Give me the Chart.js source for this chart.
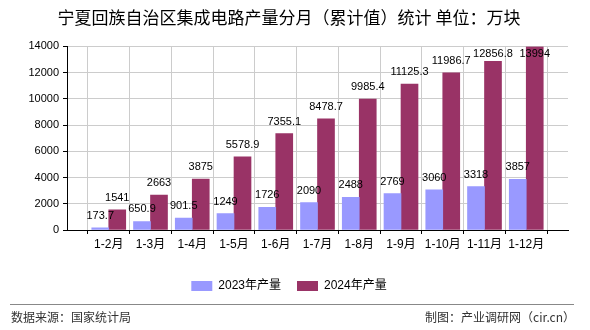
<!DOCTYPE html>
<html>
<head>
<meta charset="utf-8">
<script src="https://cdn.jsdelivr.net/npm/chart.js@4"></script>
<style>
    body { margin: 0; background: #ffffff; }
    #chart { display: block; }
</style>
</head>
<body>
<canvas id="chart" width="590" height="330"></canvas>
<script>
"use strict"

const months = ["1-2月", "1-3月", "1-4月", "1-5月", "1-6月", "1-7月", "1-8月", "1-9月", "1-10月", "1-11月", "1-12月"];
const output2023 = [173.7, 650.9, 901.5, 1249, 1726, 2090, 2488, 2769, 3060, 3318, 3857];
const output2024 = [1541, 2663, 3875, 5578.9, 7355.1, 8478.7, 9985.4, 11125.3, 11986.7, 12856.8, 13994];
const yTicks = [0, 2000, 4000, 6000, 8000, 10000, 12000, 14000];

const sansFont = "'Liberation Sans', 'Noto Sans CJK SC', sans-serif";

// the axis has an empty slot at each end, the bars sit on the inner ticks
const labels = [""].concat(months, [""]);
const pad = (arr) => [null].concat(arr, [null]);

const valueLabels = {
    id: "valueLabels",
    afterDatasetsDraw(chart) {
        const ctx = chart.ctx;
        const area = chart.chartArea;
        ctx.save();
        ctx.font = "11px " + sansFont;
        ctx.fillStyle = "#000000";
        ctx.textAlign = "center";
        ctx.textBaseline = "middle";
        chart.data.datasets.forEach((ds, i) => {
            chart.getDatasetMeta(i).data.forEach((bar, j) => {
                const v = ds.data[j];
                if (v === null) return;
                const y = Math.max(bar.y - 12, area.top + 8);
                ctx.fillText(String(v), bar.x, y);
            });
        });
        ctx.restore();
    }
};

const footer = {
    id: "footer",
    afterDraw(chart) {
        const ctx = chart.ctx;
        ctx.save();
        ctx.strokeStyle = "#888888";
        ctx.lineWidth = 1;
        ctx.beginPath();
        ctx.moveTo(10, 304.5);
        ctx.lineTo(574, 304.5);
        ctx.stroke();
        ctx.font = "12px 'Noto Sans CJK SC', sans-serif";
        ctx.fillStyle = "#333333";
        ctx.textBaseline = "middle";
        ctx.textAlign = "left";
        ctx.fillText("数据来源：国家统计局", 11, 317);
        ctx.textAlign = "right";
        ctx.fillText("制图：产业调研网（cir.cn）", 575, 317);
        ctx.restore();
    }
};

const productionChart = new Chart(
    document.querySelector("#chart"),
    {
        type: "bar",
        data: {
            labels: labels,
            datasets: [{
                label: "2023年产量",
                data: pad(output2023),
                backgroundColor: "#9999ff",
                barThickness: 17,
            }, {
                label: "2024年产量",
                data: pad(output2024),
                backgroundColor: "#993366",
                barThickness: 17,
            }],
        },
        options: {
            responsive: false,
            animation: false,
            devicePixelRatio: 1,
            layout: {
                padding: { left: 10, right: 22, top: 0, bottom: 28 }
            },
            plugins: {
                title: {
                    display: true,
                    text: "宁夏回族自治区集成电路产量分月（累计值）统计 单位：万块",
                    color: "#000000",
                    font: { family: "'Noto Sans CJK SC', sans-serif", size: 17, weight: "normal" },
                    padding: { top: 7, bottom: 19 }
                },
                legend: {
                    position: "bottom",
                    labels: {
                        boxWidth: 21,
                        boxHeight: 10,
                        padding: 16,
                        color: "#000000",
                        font: { family: sansFont, size: 12 }
                    }
                },
                tooltip: { enabled: false }
            },
            scales: {
                x: {
                    offset: false,
                    grid: {
                        color: "#cccccc",
                        tickColor: "#000000",
                        tickLength: 4
                    },
                    border: { color: "#000000" },
                    ticks: {
                        color: "#000000",
                        padding: 3,
                        maxRotation: 0,
                        autoSkip: false,
                        font: { family: sansFont, size: 12 }
                    },
                    afterFit(scale) { scale.height = 34; }
                },
                y: {
                    min: 0,
                    max: 14000,
                    afterBuildTicks(scale) {
                        scale.ticks = yTicks.map(v => ({ value: v }));
                    },
                    grid: {
                        color: "#cccccc",
                        tickColor: "#000000",
                        tickLength: 4
                    },
                    border: { color: "#000000" },
                    ticks: {
                        color: "#000000",
                        padding: 4,
                        font: { family: sansFont, size: 11 },
                        callback: (v) => String(v)
                    },
                    afterFit(scale) { scale.width = 57; }
                }
            }
        },
        plugins: [valueLabels, footer]
    }
);
</script>
</body>
</html>
